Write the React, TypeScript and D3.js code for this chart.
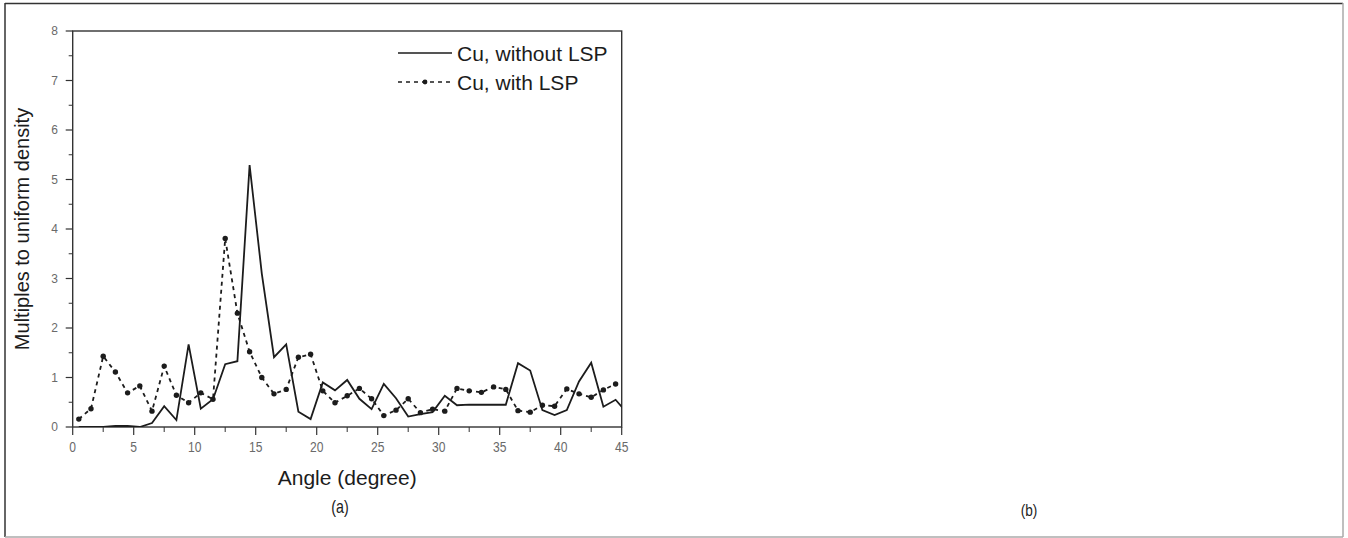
import * as d3 from 'd3';

// angles in degrees (bin centres)
const angles = [
  0.5, 1.5, 2.5, 3.5, 4.5, 5.5, 6.5, 7.5, 8.5, 9.5,
  10.5, 11.5, 12.5, 13.5, 14.5, 15.5, 16.5, 17.5, 18.5, 19.5,
  20.5, 21.5, 22.5, 23.5, 24.5, 25.5, 26.5, 27.5, 28.5, 29.5,
  30.5, 31.5, 32.5, 33.5, 34.5, 35.5, 36.5, 37.5, 38.5, 39.5,
  40.5, 41.5, 42.5, 43.5, 44.5, 45.5,
];

const withoutLSP = [
  0.0, 0.0, 0.0, 0.02, 0.02, 0.0, 0.08, 0.42, 0.14, 1.67,
  0.37, 0.56, 1.27, 1.33, 5.29, 3.1, 1.41, 1.67, 0.31, 0.16,
  0.9, 0.74, 0.95, 0.57, 0.36, 0.87, 0.58, 0.21, 0.26, 0.3,
  0.63, 0.44, 0.45, 0.45, 0.45, 0.45, 1.29, 1.14, 0.34, 0.24,
  0.34, 0.92, 1.3, 0.41, 0.55, 0.27,
];

const withLSP: (number | null)[] = [
  0.16, 0.37, 1.43, 1.11, 0.69, 0.83, 0.32, 1.23, 0.64, 0.49,
  0.69, 0.56, 3.81, 2.3, 1.52, 1.0, 0.67, 0.76, 1.41, 1.47,
  0.73, 0.49, 0.63, 0.78, 0.57, 0.23, 0.34, 0.57, 0.29, 0.36,
  0.32, 0.78, 0.73, 0.7, 0.81, 0.76, 0.33, 0.3, 0.44, 0.42,
  0.77, 0.67, 0.6, 0.75, 0.87, null,
];

const xMajor = [0, 5, 10, 15, 20, 25, 30, 35, 40, 45];
const xMinor = [2.5, 7.5, 12.5, 17.5, 22.5, 27.5, 32.5, 37.5, 42.5];
const yMajor = [0, 1, 2, 3, 4, 5, 6, 7, 8];
const yMinor = [0.5, 1.5, 2.5, 3.5, 4.5, 5.5, 6.5, 7.5];

const seriesNames = ['Cu, without LSP', 'Cu, with LSP'];

const W = 1348;
const H = 538;
const left = 72.7;
const right = 621.7;
const top = 31;
const bottom = 427;

export default function App() {
  const x = d3.scaleLinear().domain([0, 45]).range([left, right]);
  const y = d3.scaleLinear().domain([0, 8]).range([bottom, top]);

  const solidData = angles.map((a, i) => ({ a, v: withoutLSP[i] }));
  const dotData = angles.map((a, i) => ({ a, v: withLSP[i] }));

  const line = d3
    .line<{ a: number; v: number | null }>()
    .defined(d => d.v != null)
    .x(d => x(d.a))
    .y(d => y(d.v as number));

  const ink = '#1c1c1c';
  const axisCol = '#333';
  const tickText = '#6a6a6a';
  const font = '"Liberation Sans", Arial, Helvetica, sans-serif';

  return (
    <svg
      width={W}
      height={H}
      style={{ position: 'absolute', left: 0, top: 0, background: '#fff' }}
      fontFamily={font}
    >
      <defs>
        <clipPath id="plot-clip">
          <rect x={left} y={top} width={right - left} height={bottom - top} />
        </clipPath>
      </defs>

      {/* outer frame */}
      <line x1={5} y1={3.5} x2={1343} y2={3.5} stroke="#333" strokeWidth={1.5} />
      <line x1={5} y1={3} x2={5} y2={537} stroke="#333" strokeWidth={1.5} />
      <line x1={1343} y1={3} x2={1343} y2={537} stroke="#aaa" strokeWidth={1.5} />
      <line x1={5} y1={537} x2={1343} y2={537} stroke="#aaa" strokeWidth={1.5} />

      {/* plot frame */}
      <rect
        x={left}
        y={top}
        width={right - left}
        height={bottom - top}
        fill="none"
        stroke={axisCol}
        strokeWidth={1.4}
      />

      {/* x ticks */}
      {xMajor.map(t => (
        <g key={'xM' + t}>
          <line x1={x(t)} x2={x(t)} y1={bottom} y2={bottom + 8} stroke={axisCol} strokeWidth={1.2} />
          <text
            transform={`translate(${x(t)},${452}) scale(0.78,1)`}
            textAnchor="middle"
            fontSize={15.5}
            fill={tickText}
          >
            {t}
          </text>
        </g>
      ))}
      {xMinor.map(t => (
        <line key={'xm' + t} x1={x(t)} x2={x(t)} y1={bottom} y2={bottom + 5} stroke={axisCol} strokeWidth={1} />
      ))}

      {/* y ticks */}
      {yMajor.map(t => (
        <g key={'yM' + t}>
          <line x1={left - 7} x2={left} y1={y(t)} y2={y(t)} stroke={axisCol} strokeWidth={1.2} />
          <text x={58} y={y(t) + 4.3} textAnchor="end" fontSize={12} fill={tickText}>
            {t}
          </text>
        </g>
      ))}
      {yMinor.map(t => (
        <line key={'ym' + t} x1={left - 4} x2={left} y1={y(t)} y2={y(t)} stroke={axisCol} strokeWidth={1} />
      ))}

      {/* series */}
      <g clipPath="url(#plot-clip)">
        <path d={line(solidData) || ''} fill="none" stroke={ink} strokeWidth={1.8} strokeLinejoin="miter" />
        <path
          d={line(dotData) || ''}
          fill="none"
          stroke={ink}
          strokeWidth={1.8}
          strokeDasharray="4 4"
        />
        {dotData
          .filter(d => d.v != null)
          .map(d => (
            <circle key={'p' + d.a} cx={x(d.a)} cy={y(d.v as number)} r={2.7} fill={ink} />
          ))}
      </g>

      {/* legend */}
      <line x1={398} x2={452} y1={53} y2={53} stroke={ink} strokeWidth={1.6} />
      <text x={457} y={60.5} fontSize={21} fill={ink}>
        {seriesNames[0]}
      </text>
      <line x1={398} x2={452} y1={82} y2={82} stroke={ink} strokeWidth={1.6} strokeDasharray="4 4" />
      <circle cx={425} cy={82} r={2.4} fill={ink} />
      <text x={457} y={90} fontSize={21} fill={ink}>
        {seriesNames[1]}
      </text>

      {/* axis titles */}
      <text x={(left + right) / 2} y={485} textAnchor="middle" fontSize={21} fill={ink}>
        Angle (degree)
      </text>
      <text
        transform={`translate(29,${(top + bottom) / 2}) rotate(-90)`}
        textAnchor="middle"
        fontSize={20}
        fill={ink}
      >
        Multiples to uniform density
      </text>

      {/* panel captions */}
      <text transform="translate(340,513) scale(0.75,1)" textAnchor="middle" fontSize={19} fill={ink}>
        (a)
      </text>
      <text transform="translate(1029,516) scale(0.8,1)" textAnchor="middle" fontSize={17} fill={ink}>
        (b)
      </text>
    </svg>
  );
}
